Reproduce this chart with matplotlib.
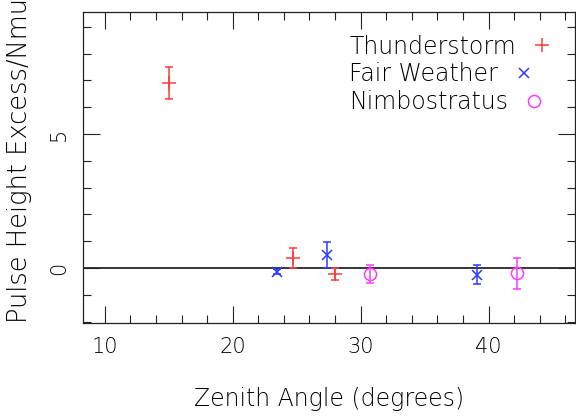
import numpy as np
import matplotlib.pyplot as plt
from matplotlib.ticker import MultipleLocator
from matplotlib.lines import Line2D

# data
thunder_x = [15.0, 24.7, 28.0]
thunder_y = [6.9, 0.38, -0.22]
thunder_err = [0.58, 0.38, 0.23]

fair_x = [23.5, 27.4, 39.1]
fair_y = [-0.13, 0.5, -0.25]
fair_err = [0.08, 0.48, 0.35]

nimbo_x = [30.7, 42.2]
nimbo_y = [-0.22, -0.2]
nimbo_err = [0.32, 0.58]

plt.rcParams['font.family'] = 'DejaVu Sans'
plt.rcParams['font.weight'] = 'light'
plt.rcParams['axes.labelweight'] = 'light'

red, blue, mag = '#ff3b3b', '#2b3bff', '#ff3bff'

fig = plt.figure(figsize=(5.76, 4.19), dpi=100)
ax = fig.add_axes([83 / 576, 1 - 323 / 419, 492 / 576, 311 / 419])

ax.axhline(0, color='black', lw=1.1, zorder=1)

ax.errorbar(thunder_x, thunder_y, yerr=thunder_err, fmt='+', color=red,
            ms=9.5, mew=1.1, elinewidth=1.1, capsize=2.8)
ax.errorbar(fair_x, fair_y, yerr=fair_err, fmt='x', color=blue,
            ms=6.5, mew=1.1, elinewidth=1.1, capsize=2.8)
ax.errorbar(nimbo_x, nimbo_y, yerr=nimbo_err, fmt='o', color=mag, mfc='none',
            ms=8.7, mew=1.1, elinewidth=1.1, capsize=2.8)

ax.set_xlim(8.3, 46.75)
ax.set_ylim(-2.05, 9.55)
ax.xaxis.set_major_locator(MultipleLocator(10))
ax.xaxis.set_minor_locator(MultipleLocator(2))
ax.yaxis.set_major_locator(MultipleLocator(5))
ax.yaxis.set_minor_locator(MultipleLocator(1))

ax.tick_params(which='both', direction='in', top=True, right=True, width=0.8,
               labelsize=15, color='#222222', labelcolor='black')
ax.tick_params(which='major', length=12, pad=10)
ax.tick_params(which='minor', length=6)
for lab in ax.get_yticklabels():
    lab.set_rotation(90)
    lab.set_va('center')
for sp in ax.spines.values():
    sp.set_linewidth(0.9)
    sp.set_color('#222222')

ax.set_xlabel('Zenith Angle (degrees)', fontsize=17, labelpad=22)
fig.text(20 / 576, 1 - 323 / 419, 'Pulse Height Excess/Nmu', rotation=90,
         fontsize=18.5, ha='center', va='bottom')

handles = [
    Line2D([], [], ls='none', marker='+', color=red, ms=9.5, mew=1.1),
    Line2D([], [], ls='none', marker='x', color=blue, ms=6.5, mew=1.1),
    Line2D([], [], ls='none', marker='o', color=mag, mfc='none', ms=8.7, mew=1.1),
]
labels = ['Thunderstorm', 'Fair Weather', 'Nimbostratus']
leg = ax.legend(handles, labels, loc='upper right', frameon=False, markerfirst=False,
                fontsize=17, handlelength=1.0, handletextpad=0.6, labelspacing=0.15,
                bbox_to_anchor=(0.99, 0.98), borderaxespad=0.3)
for col in leg._legend_handle_box.get_children():
    col.align = 'left'

fig.savefig('out.png', dpi=100)
